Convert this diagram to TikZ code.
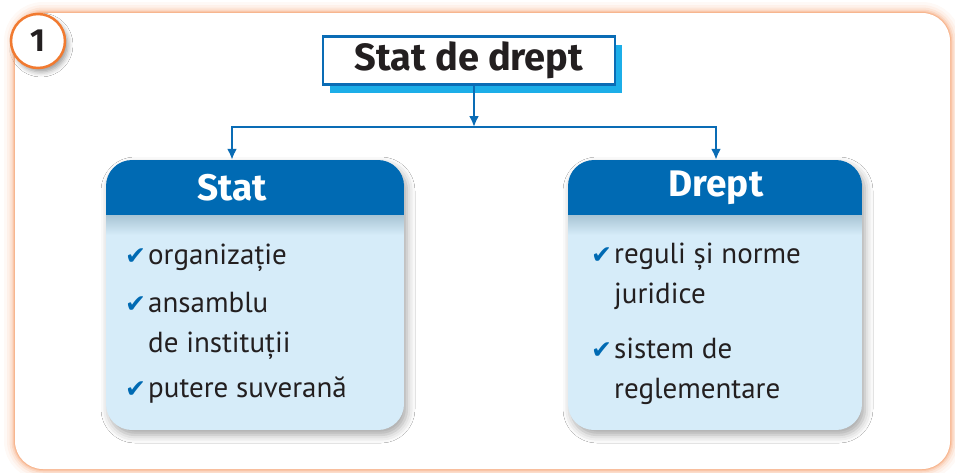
\documentclass[tikz,border=0pt]{standalone}
\usepackage{fontspec}
\setmainfont{PT Sans}
\newfontfamily\headfont{Fira Sans}
\newfontfamily\symfont{DejaVu Sans}
\usetikzlibrary{positioning,arrows.meta,shadows,shadows.blur}

\definecolor{headblue}{RGB}{0,106,179}
\definecolor{bodyblue}{RGB}{214,236,249}
\definecolor{bodyshade}{RGB}{168,196,212}
\definecolor{linkblue}{RGB}{10,108,181}
\definecolor{skyblue}{RGB}{28,174,232}
\definecolor{badgeorange}{RGB}{241,122,48}
\definecolor{glow}{RGB}{244,150,95}
\definecolor{ink}{RGB}{35,31,32}

\newcommand{\checkmk}{\makebox[23pt][l]{\symfont\fontsize{25}{25}\selectfont\color{headblue}✔}}

\begin{document}
\begin{tikzpicture}[x=1pt,y=-1pt,
      every node/.style={inner sep=0pt, text=ink},
      >={Latex[length=11pt,width=10pt]},
      link/.style={draw=linkblue, line width=2.8pt},
      titlebox/.style={draw=linkblue, line width=2.6pt, fill=white,
        minimum width=292pt, minimum height=48pt,
        general shadow={fill=skyblue, shadow xshift=7pt, shadow yshift=-8pt},
        font=\headfont\bfseries\fontsize{38}{38}\selectfont},
      badge/.style={circle, draw=badgeorange, line width=2.5pt, fill=white,
        minimum size=54pt,
        blur shadow={shadow xshift=3pt, shadow yshift=-4pt, shadow blur radius=5pt},
        font=\headfont\bfseries\fontsize{32}{32}\selectfont},
      headtext/.style={minimum height=55pt, text=white,
        font=\headfont\bfseries\fontsize{37}{37}\selectfont},
      item/.style={anchor=base west, font=\fontsize{29}{29}\selectfont},
      boxshadow/.style={rounded corners=26pt,
        blur shadow={shadow xshift=3pt, shadow yshift=-5pt, shadow blur radius=8pt, shadow opacity=35}}
    ]
    \useasboundingbox (0,0) rectangle (955,472);

    % frame with soft orange edge
    \foreach \w/\o in {22/0.06, 16/0.08, 11/0.12, 7/0.18, 4/0.25, 2/0.35}
      \draw[glow, line width=\w pt, opacity=\o, rounded corners=28pt] (15,13) rectangle (950,469);
    \fill[white, rounded corners=28pt] (15,13) rectangle (950,469);

    % the two boxes
    \path[boxshadow] (106,160) rectangle (404,430);
    \path[boxshadow] (568,160) rectangle (862,430);
    \begin{scope}
      \clip[rounded corners=26pt] (106,160) rectangle (404,430);
      \fill[bodyblue] (106,215) rectangle (404,430);
      \shade[top color=bodyshade, bottom color=bodyblue] (106,215) rectangle (404,235);
      \fill[headblue] (106,160) rectangle (404,215);
    \end{scope}
    \begin{scope}
      \clip[rounded corners=26pt] (568,160) rectangle (862,430);
      \fill[bodyblue] (568,215) rectangle (862,430);
      \shade[top color=bodyshade, bottom color=bodyblue] (568,215) rectangle (862,235);
      \fill[headblue] (568,160) rectangle (862,215);
    \end{scope}

    \node [badge] (num) at (38,41) {1};
    \node [titlebox] (title) at (469,60.5) {Stat de drept};
    \node [headtext] (stat) at (232,187.5) {Stat};
    \node [headtext] (drept) at (716,187.5) {Drept};
    \coordinate (split) at (474,127);

    \node [item] (s1) at (125,264) {\checkmk organizație};
    \node [item] (s2) at (125,312) {\checkmk ansamblu};
    \node [item] (s2b) at (148,352) {de instituții};
    \node [item] (s3) at (125,397) {\checkmk putere suverană};

    \node [item] (d1) at (591,263) {\checkmk reguli și norme};
    \node [item] (d1b) at (614,303) {juridice};
    \node [item] (d2) at (591,358) {\checkmk sistem de};
    \node [item] (d2b) at (614,398) {reglementare};

    \draw[link,->] (title.south -| split) -- (split);
    \draw[link,->] (split) -| (stat.north);
    \draw[link,->] (split) -| (drept.north);
\end{tikzpicture}
\end{document}
